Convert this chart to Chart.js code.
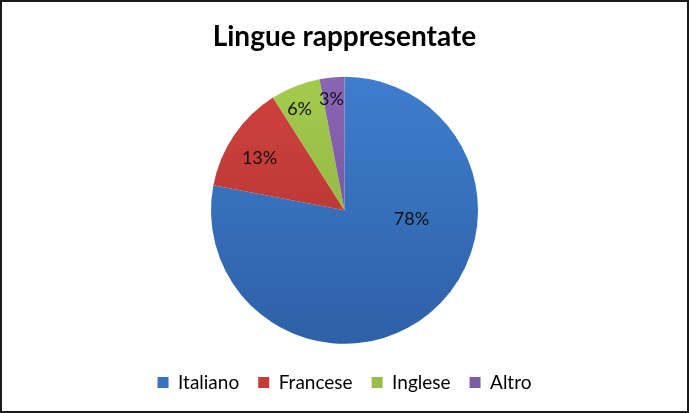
<!DOCTYPE html>
<html>
<head>
<meta charset="utf-8">
<script src="https://cdn.jsdelivr.net/npm/chart.js@4.4.1/dist/chart.umd.min.js"></script>
<style>
  html, body { margin: 0; padding: 0; background: #fff; }
  #wrap { width: 689px; height: 413px; box-sizing: border-box; border: 2px solid #1a1a1a; }
</style>
</head>
<body>
<div id="wrap"><canvas id="chart-pie"></canvas></div>
<script>
var categories = ['Italiano', 'Francese', 'Inglese', 'Altro'];
var shares = [78, 13, 6, 3];
var shareLabels = ['78%', '13%', '6%', '3%'];

// top / bottom shade of each slice (Excel style gradient)
var topColors = ["#3F7FCF", "#D2423E", "#A6CC4E", "#8A67B6"];
var bottomColors = ["#2D5FA5", "#A8322F", "#86A83E", "#6A4C92"];
var flatColors = ["#3A73C0", "#C43D3A", "#98BD49", "#7D5CA6"];

// label placement: fraction of radius, and angle shift (deg) from slice middle
var labelRadius = [0.506, 0.748, 0.83, 0.84];
var labelShift = [-43.2, -2.5, -2.3, -1.25];

function sliceFill(ctx) {
  var chart = ctx.chart;
  var area = chart.chartArea;
  if (!area) return flatColors[ctx.dataIndex];
  var g = chart.ctx.createLinearGradient(0, area.top, 0, area.bottom);
  g.addColorStop(0, topColors[ctx.dataIndex]);
  g.addColorStop(1, bottomColors[ctx.dataIndex]);
  return g;
}

var pieLabels = {
  id: 'pieLabels',
  afterDatasetsDraw: function (chart) {
    var c = chart.ctx;
    var meta = chart.getDatasetMeta(0);
    c.save();
    c.font = '18px Lato, "Noto Sans", sans-serif';
    c.fillStyle = '#111';
    c.textAlign = 'center';
    c.textBaseline = 'middle';
    meta.data.forEach(function (arc, i) {
      var mid = (arc.startAngle + arc.endAngle) / 2 + labelShift[i] * Math.PI / 180;
      var r = arc.outerRadius * labelRadius[i];
      c.fillText(shareLabels[i], arc.x + Math.cos(mid) * r, arc.y + Math.sin(mid) * r);
    });
    c.restore();
  }
};

var pieChart = new Chart(document.getElementById("chart-pie"), {
  type: 'pie',
  data: {
    labels: categories,
    datasets: [{
      data: shares,
      backgroundColor: sliceFill,
      borderWidth: 0,
      radius: 133.5
    }]
  },
  options: {
    responsive: true,
    maintainAspectRatio: false,
    animation: false,
    layout: { padding: { top: 0, bottom: 9 } },
    plugins: {
      title: {
        display: true,
        text: 'Lingue rappresentate',
        color: '#000',
        font: { family: 'Lato, "Noto Sans", sans-serif', size: 28, weight: 'bold' },
        padding: { top: 18, bottom: 13 }
      },
      legend: {
        position: 'bottom',
        labels: {
          color: '#111',
          font: { family: 'Lato, "Noto Sans", sans-serif', size: 19 },
          boxWidth: 11,
          boxHeight: 11,
          padding: 19,
          generateLabels: function (chart) {
            return categories.map(function (name, i) {
              return { text: name, fillStyle: flatColors[i], strokeStyle: flatColors[i], lineWidth: 0, index: i };
            });
          }
        }
      },
      tooltip: { enabled: false }
    }
  },
  plugins: [pieLabels]
});
</script>
</body>
</html>
